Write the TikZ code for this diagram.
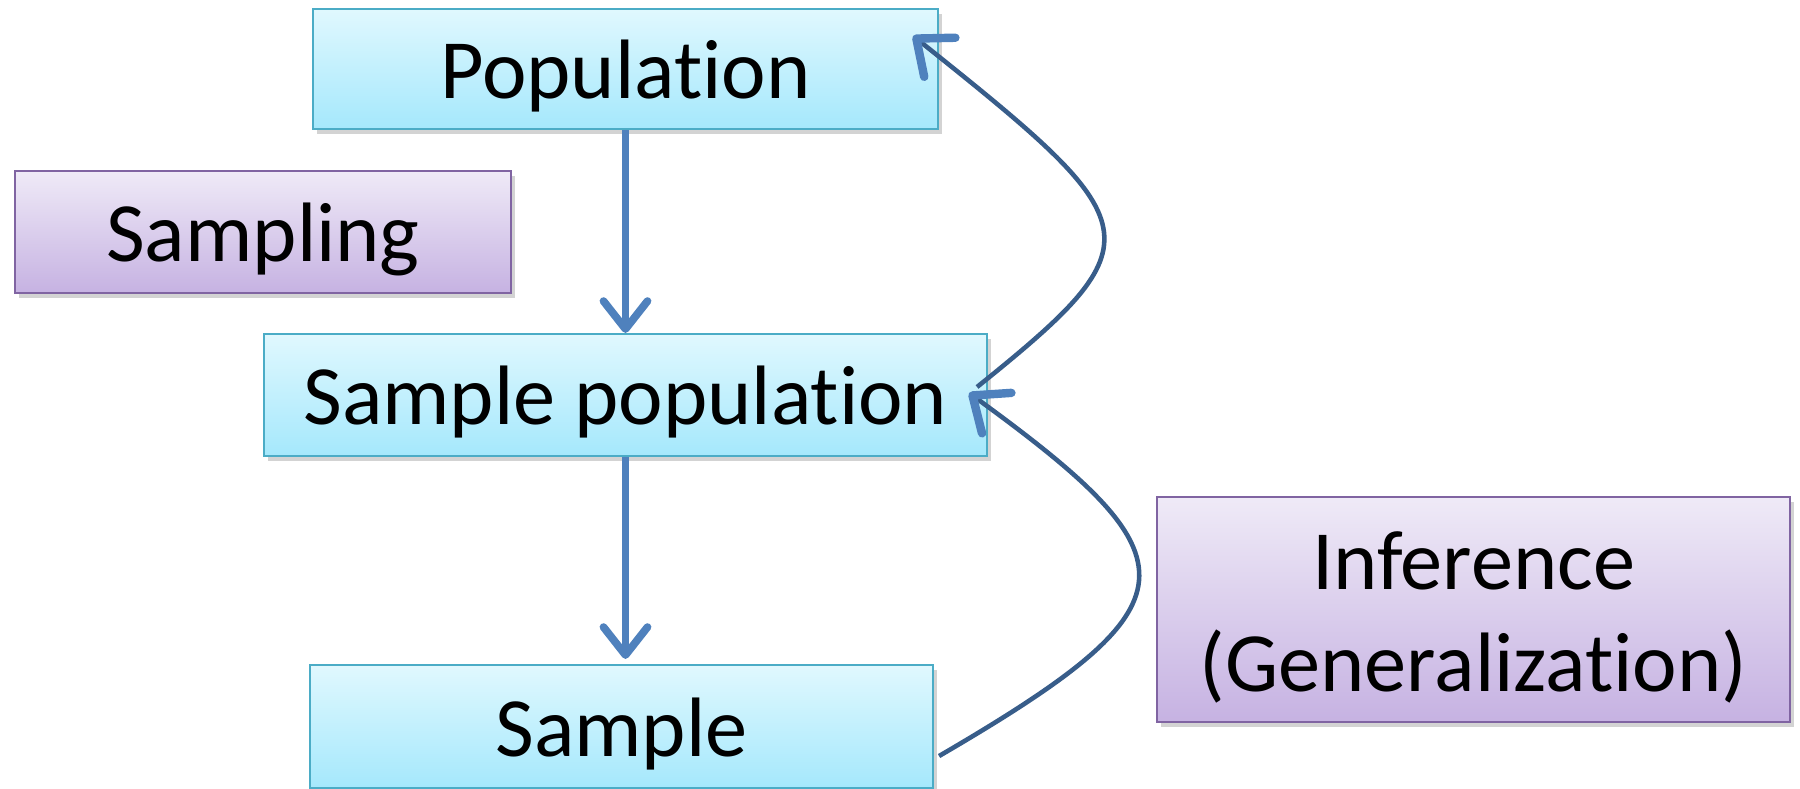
\documentclass[tikz,border=0pt]{standalone}
\usepackage{fontspec}
\setmainfont{Carlito}[Ligatures={NoCommon}]
\usetikzlibrary{arrows.meta,shadows}
\definecolor{bluetop}{HTML}{E0F8FE}
\definecolor{bluebot}{HTML}{A5E8FC}
\definecolor{blueedge}{HTML}{4BACC6}
\definecolor{lilactop}{HTML}{EFEAF7}
\definecolor{lilacbot}{HTML}{C6B2E2}
\definecolor{lilacedge}{HTML}{8064A2}
\definecolor{arrowblue}{HTML}{4F81BD}
\definecolor{curveblue}{HTML}{385D8A}
\begin{document}
\begin{tikzpicture}[
    boxfont/.style={font=\fontsize{24}{29}\selectfont},
    stagebox/.style={boxfont, draw=blueedge, line width=0.6pt, top color=bluetop, bottom color=bluebot,
        drop shadow={shadow xshift=1pt, shadow yshift=-1.5pt, opacity=0.35}, inner sep=0pt,
        text height=18pt, text depth=1pt},
    actionbox/.style={boxfont, draw=lilacedge, line width=0.6pt, top color=lilactop, bottom color=lilacbot,
        drop shadow={shadow xshift=1pt, shadow yshift=-1.5pt, opacity=0.35}, inner sep=0pt, align=center},
    downarrow/.style={draw=arrowblue, line width=2.2pt, -{Straight Barb[round, length=0.28cm, width=0.44cm]}},
    backarrow/.style={draw=curveblue, line width=1.3pt,
        -{Straight Barb[round, length=0.3cm, width=0.5cm, line width=2.4pt, color=arrowblue]}}
]
\useasboundingbox (0,0) rectangle (18,-7.89);
\node[stagebox, minimum width=6.25cm, minimum height=1.2cm] (pop) at (6.255,-0.69) {Population};
\node[actionbox, minimum width=4.96cm, minimum height=1.22cm, text height=18pt, text depth=1pt] (smpl) at (2.63,-2.32) {Sampling};
\node[stagebox, minimum width=7.23cm, minimum height=1.22cm] (sp) at (6.255,-3.95) {Sample population};
\node[stagebox, minimum width=6.23cm, minimum height=1.23cm] (samp) at (6.215,-7.265) {Sample};
\node[actionbox, minimum width=6.33cm, minimum height=2.25cm] (inf) at (14.735,-6.095) {\rule{0pt}{21pt}Inference\\(Generalization)};
\draw[downarrow] (pop) -- (sp);
\draw[downarrow] (sp) -- ([yshift=0.05cm]sp |- samp.north);
\draw[backarrow] ([xshift=-0.11cm,yshift=0.08cm]sp.east) .. controls (11.6,-2.4) and (11.5,-2.25) .. ([xshift=-0.26cm,yshift=-0.28cm]pop.north east);
\draw[backarrow] ([xshift=0.05cm,yshift=0.33cm]samp.south east) .. controls (12.0,-6.04) and (11.99,-5.6) .. ([xshift=-0.19cm,yshift=0.02cm]sp.east);
\end{tikzpicture}
\end{document}
